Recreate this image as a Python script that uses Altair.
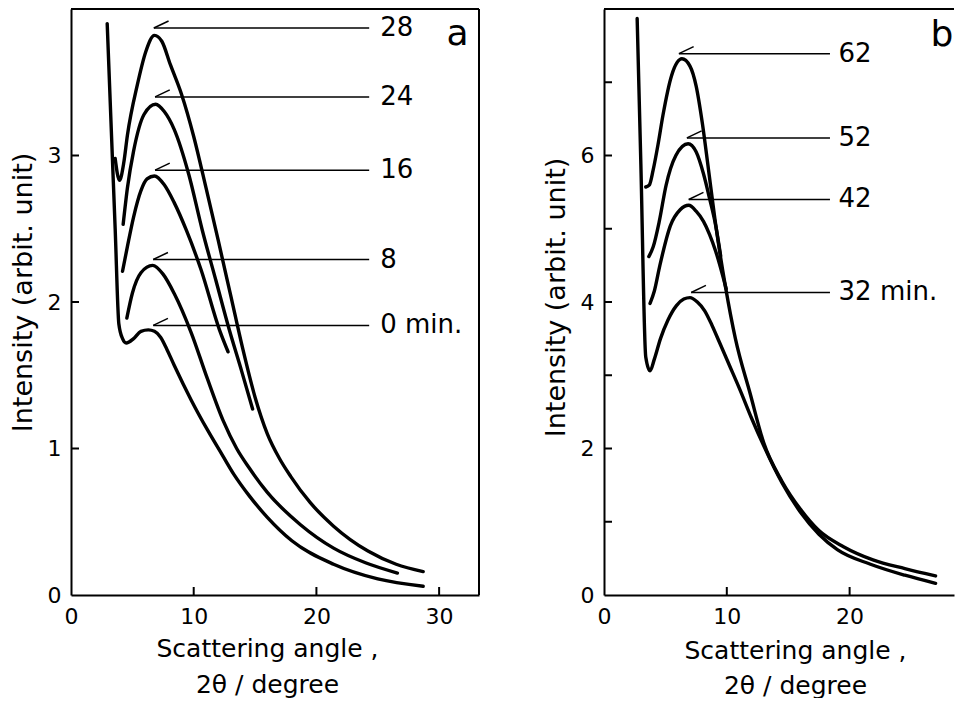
import altair as alt
import pandas as pd

FONT = "DejaVu Sans"

# ---------------- panel a : curves ----------------
a_names = ["0 min.", "8", "16", "24", "28"]
a0_x = [2.95, 3.3, 3.6, 3.9, 4.2, 4.5, 5.1, 5.7, 6.3, 6.8, 7.3, 7.8, 8.4, 9.8, 11.1, 12.3, 13.3, 14.5, 16.0, 18.0, 21.4, 25.0, 28.7]
a0_y = [3.90, 3.14, 2.50, 1.85, 1.75, 1.72, 1.75, 1.80, 1.81, 1.80, 1.76, 1.68, 1.57, 1.33, 1.13, 0.96, 0.82, 0.68, 0.53, 0.37, 0.21, 0.11, 0.06]
a8_x = [4.55, 5.0, 5.7, 6.65, 7.5, 8.4, 9.8, 11.1, 12.4, 13.5, 14.5, 16.0, 18.7, 21.4, 24.0, 26.6]
a8_y = [1.89, 2.06, 2.20, 2.25, 2.19, 2.06, 1.79, 1.48, 1.19, 1.00, 0.87, 0.70, 0.48, 0.32, 0.22, 0.15]
a16_x = [4.2, 4.6, 5.1, 5.7, 6.2, 6.8, 7.6, 8.4, 9.4, 10.6, 12.1, 12.8]
a16_y = [2.21, 2.38, 2.58, 2.76, 2.84, 2.86, 2.80, 2.68, 2.49, 2.22, 1.81, 1.66]
a24_x = [4.25, 4.6, 5.1, 5.95, 6.9, 7.6, 8.4, 9.6, 10.7, 11.8, 12.9, 13.9, 14.8]
a24_y = [2.53, 2.78, 3.03, 3.28, 3.35, 3.30, 3.18, 2.87, 2.49, 2.15, 1.81, 1.53, 1.27]
a28_x = [3.6, 3.95, 4.3, 4.6, 5.4, 6.1, 6.8, 7.4, 8.1, 9.0, 10.0, 11.0, 12.0, 13.0, 14.0, 15.0, 16.0, 17.0, 17.9, 19.5, 21.4, 24.2, 26.5, 28.7]
a28_y = [2.98, 2.83, 2.95, 3.14, 3.48, 3.71, 3.82, 3.78, 3.62, 3.42, 3.13, 2.78, 2.42, 2.05, 1.68, 1.35, 1.10, 0.93, 0.81, 0.63, 0.47, 0.30, 0.21, 0.16]

# panel a : labels / arrows
a_lab_y = [1.84, 2.29, 2.90, 3.40, 3.87]
a_arrow_x = [6.7, 6.7, 6.85, 6.85, 6.75]

# ---------------- panel b : curves ----------------
b_names = ["32 min.", "42", "52", "62"]
b32_x = [2.7, 3.0, 3.4, 3.75, 4.1, 4.6, 5.2, 5.9, 6.5, 7.0, 7.6, 8.2, 8.8, 9.4, 10.2, 11.1, 12.0, 13.0, 14.5, 16.0, 17.5, 19.0, 21.7, 24.5, 27.0]
b32_y = [7.87, 5.89, 3.25, 3.06, 3.22, 3.50, 3.75, 3.95, 4.04, 4.06, 4.00, 3.88, 3.68, 3.45, 3.14, 2.79, 2.42, 2.04, 1.53, 1.13, 0.83, 0.62, 0.42, 0.27, 0.16]
b42_x = [3.75, 4.1, 4.55, 5.4, 6.2, 6.9, 7.5, 8.1, 8.6, 9.1, 9.95]
b42_y = [3.98, 4.15, 4.50, 5.04, 5.26, 5.32, 5.24, 5.10, 4.92, 4.69, 4.18]
b52_x = [3.65, 4.0, 4.5, 5.05, 5.85, 6.85, 7.5, 8.1, 8.6, 9.1, 9.5]
b52_y = [4.62, 4.75, 5.10, 5.59, 6.00, 6.16, 6.05, 5.75, 5.41, 5.04, 4.63]
b62_x = [3.4, 3.7, 4.0, 4.4, 4.8, 5.5, 6.35, 7.0, 7.5, 8.0, 8.5, 9.1, 9.9, 10.7, 11.9, 13.0, 14.5, 16.0, 17.5, 19.5, 21.9, 24.5, 27.0]
b62_y = [5.57, 5.60, 5.80, 6.15, 6.55, 7.09, 7.32, 7.22, 6.95, 6.45, 5.82, 5.05, 4.20, 3.50, 2.75, 2.08, 1.55, 1.17, 0.88, 0.66, 0.48, 0.36, 0.26]

b_lab_y = [4.13, 5.40, 6.24, 7.39]
b_arrow_x = [7.1, 6.9, 6.75, 6.1]

# ticks / labels
a_xlabels = [0, 10, 20, 30]
a_ylabels = [0, 1, 2, 3]
a_xticks = [10, 20, 30]
a_yticks = [1, 2, 3]
b_xlabels = [0, 10, 20]
b_ylabels = [0, 2, 4, 6]
b_xticks = [10, 20]
b_yticks = [1, 2, 3, 4, 5, 6, 7]

XTITLE = ["Scattering angle ,", "2θ / degree"]
YTITLE = "Intensity (arbit. unit)"


def curves_df(names, xs_list, ys_list):
    rows = []
    for n, xs, ys in zip(names, xs_list, ys_list):
        for i, (x, y) in enumerate(zip(xs, ys)):
            rows.append({"s": n, "i": i, "x": x, "y": y})
    return pd.DataFrame(rows)


def make_panel(cdf, names, lab_y, arrow_x, arrow_end, text_x, barb_dy,
               xdom, ydom, W, H, xlabels, ylabels, xticks, yticks,
               letter, letter_x, letter_y, letter_align, right_border,
               title_x, title_y, title_lh, ytitle_y):
    xs = alt.Scale(domain=xdom, nice=False, zero=False)
    ys = alt.Scale(domain=ydom, nice=False, zero=False)
    xaxis = alt.Axis(values=xlabels, format="d", tickSize=0, labelPadding=11, labelFontSize=22,
                     labelFont=FONT, labelColor="black", labelFlush=False,
                     labelOverlap=False, domainColor="black", domainWidth=2,
                     grid=False, title=XTITLE, titleFont=FONT, titleFontSize=25,
                     titleFontWeight="normal", titleColor="black",
                     titleLineHeight=title_lh, titleX=title_x, titleY=title_y,
                     titleBaseline="alphabetic", titleAlign="center")
    yaxis = alt.Axis(values=ylabels, format="d", tickSize=0, labelPadding=10, labelFontSize=22,
                     labelFont=FONT, labelColor="black", labelFlush=False,
                     labelOverlap=False, domainColor="black", domainWidth=2,
                     grid=False, title=YTITLE, titleFont=FONT, titleFontSize=27,
                     titleFontWeight="normal", titleColor="black",
                     titleAngle=270, titleBaseline="bottom", titleAlign="center",
                     titleX=-34, titleY=ytitle_y)

    lines = alt.Chart(cdf).mark_line(
        color="black", strokeWidth=3.4, interpolate="monotone",
        strokeCap="round", strokeJoin="round"
    ).encode(
        x=alt.X("x:Q", scale=xs, axis=xaxis),
        y=alt.Y("y:Q", scale=ys, axis=yaxis),
        detail="s:N",
        order="i:Q",
    )

    xt = alt.Chart(pd.DataFrame({"x": xticks})).mark_rule(color="black", strokeWidth=2).encode(
        x=alt.X("x:Q"), y=alt.value(H), y2=alt.value(H - 8))
    yt = alt.Chart(pd.DataFrame({"y": yticks})).mark_rule(color="black", strokeWidth=2).encode(
        y=alt.Y("y:Q"), x=alt.value(0), x2=alt.value(8))

    dummy = pd.DataFrame({"k": [0]})
    top = alt.Chart(dummy).mark_rule(color="black", strokeWidth=2).encode(
        x=alt.value(0), x2=alt.value(W), y=alt.value(0))
    layers = [lines, xt, yt, top]
    if right_border:
        layers.append(alt.Chart(dummy).mark_rule(color="black", strokeWidth=2).encode(
            x=alt.value(W), y=alt.value(0), y2=alt.value(H)))

    ldf = pd.DataFrame({
        "label": names,
        "y": lab_y,
        "x": arrow_x,
        "x2": [arrow_end] * len(names),
        "tx": [text_x] * len(names),
        "bx2": [a + 1.2 for a in arrow_x],
        "by2": [v + barb_dy for v in lab_y],
    })
    arrow = alt.Chart(ldf).mark_rule(color="black", strokeWidth=1.5).encode(
        x=alt.X("x:Q"), x2="x2:Q", y=alt.Y("y:Q"))
    barb = alt.Chart(ldf).mark_rule(color="black", strokeWidth=1.5).encode(
        x=alt.X("x:Q"), x2="bx2:Q", y=alt.Y("y:Q"), y2="by2:Q")
    txt = alt.Chart(ldf).mark_text(
        align="left", baseline="middle", fontSize=26, font=FONT, color="black"
    ).encode(x=alt.X("tx:Q"), y=alt.Y("y:Q"), text="label:N")
    let = alt.Chart(pd.DataFrame({"x": [letter_x], "y": [letter_y], "t": [letter]})).mark_text(
        align=letter_align, baseline="middle", fontSize=36, font=FONT, color="black"
    ).encode(x=alt.X("x:Q"), y=alt.Y("y:Q"), text="t:N")
    layers += [arrow, barb, txt, let]
    return alt.layer(*layers).properties(width=W, height=H)


cda = curves_df(a_names, [a0_x, a8_x, a16_x, a24_x, a28_x], [a0_y, a8_y, a16_y, a24_y, a28_y])
cdb = curves_df(b_names, [b32_x, b42_x, b52_x, b62_x], [b32_y, b42_y, b52_y, b62_y])

pa = make_panel(cda, a_names, a_lab_y, a_arrow_x, 24.3, 25.2, 0.048,
                [0, 33.25], [0, 4], 408, 586, a_xlabels, a_ylabels, a_xticks, a_yticks,
                "a", 31.5, 3.83, "center", True, 196, 61, 36, 283)
pb = make_panel(cdb, b_names, b_lab_y, b_arrow_x, 18.4, 19.1, 0.096,
                [0, 28.5], [0, 8], 350, 586, b_xlabels, b_ylabels, b_xticks, b_yticks,
                "b", 28.45, 7.64, "right", False, 191, 63, 35, 288)

chart = alt.hconcat(pa, pb, spacing=62).properties(padding=0).configure_view(stroke=None)

chart.save("out.html", embed_options={"renderer": "svg", "actions": False})
